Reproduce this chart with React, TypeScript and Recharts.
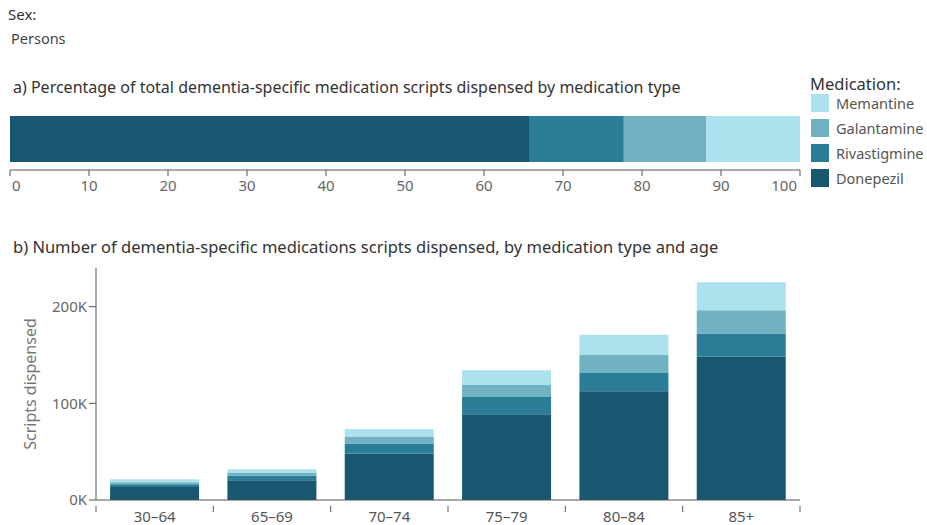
import { Bar, BarChart, XAxis, YAxis } from "recharts";

const medications = ["Donepezil", "Rivastigmine", "Galantamine", "Memantine"];
const colors = ["#17576F", "#2A7C97", "#70B1C2", "#ABE2ED"];

// a) share of all scripts, per cent
const sharePct = [65.8, 11.9, 10.4, 11.9];
const shareTicks = [0, 10, 20, 30, 40, 50, 60, 70, 80, 90, 100];

// b) scripts by age group
const ageGroups = ["30–64", "65–69", "70–74", "75–79", "80–84", "85+"];
const donepezil = [13500, 20400, 48100, 88600, 112500, 148400];
const rivastigmine = [2800, 4900, 10400, 18000, 19000, 23900];
const galantamine = [2000, 3100, 7200, 12400, 19000, 23900];
const memantine = [3200, 3400, 7700, 15300, 20400, 29100];
const scriptTicks = [0, 100000, 200000];

const font = "'Noto Sans', sans-serif";

const shareData = [
  medications.reduce((row: any, m, i) => ({ ...row, [m]: sharePct[i] }), { name: "Persons" }),
];

const ageData = ageGroups.map((age, i) => ({
  age,
  Donepezil: donepezil[i],
  Rivastigmine: rivastigmine[i],
  Galantamine: galantamine[i],
  Memantine: memantine[i],
}));

// first and last percent labels are pulled inside the axis ends
const ShareTick = (props: any) => {
  const { x, y, payload, index, visibleTicksCount } = props;
  const last = visibleTicksCount - 1;
  const anchor = index === 0 ? "start" : index === last ? "end" : "middle";
  const dx = index === 0 ? 2 : index === last ? -3 : 0;
  return (
    <text x={x + dx} y={y + 12} textAnchor={anchor} fill="#666" fontSize={15} fontFamily={font}>
      {payload.value}
    </text>
  );
};

// category label at band centre, tick marks at band edges
const AgeTick = (props: any) => {
  const { x, y, payload, index, visibleTicksCount, width } = props;
  const band = (width || 704) / (visibleTicksCount || ageGroups.length);
  const left = x - band / 2;
  const right = x + band / 2;
  return (
    <g>
      <line x1={left} x2={left} y1={y - 2} y2={y + 4} stroke="#555" />
      {index === visibleTicksCount - 1 && (
        <line x1={right} x2={right} y1={y - 2} y2={y + 4} stroke="#555" />
      )}
      <text x={x} y={y + 14} textAnchor="middle" fill="#555" fontSize={15} fontFamily={font}>
        {payload.value}
      </text>
    </g>
  );
};

const legendItems = [...medications].reverse();

export default function App() {
  return (
    <div
      style={{
        position: "absolute",
        left: 0,
        top: 0,
        width: 927,
        height: 525,
        background: "#fff",
        fontFamily: font,
        color: "#333",
        overflow: "hidden",
      }}
    >
      <div style={{ position: "absolute", left: 8, top: 4, fontSize: 15 }}>Sex:</div>
      <div style={{ position: "absolute", left: 11, top: 28, fontSize: 14.5, color: "#444" }}>Persons</div>
      <div style={{ position: "absolute", left: 13, top: 76, fontSize: 16 }}>
        a) Percentage of total dementia-specific medication scripts dispensed by medication type
      </div>
      <div style={{ position: "absolute", left: 13, top: 235, fontSize: 16.5 }}>
        b) Number of dementia-specific medications scripts dispensed, by medication type and age
      </div>

      <div style={{ position: "absolute", left: 810, top: 72, fontSize: 16.5 }}>Medication:</div>
      {legendItems.map((m, i) => (
        <div
          key={m}
          style={{
            position: "absolute",
            left: 811,
            top: 93 + i * 25,
            display: "flex",
            alignItems: "center",
            fontSize: 14.5,
            color: "#555",
          }}
        >
          <span
            style={{
              display: "inline-block",
              width: 18,
              height: 18,
              background: colors[medications.indexOf(m)],
              marginRight: 7,
            }}
          />
          {m}
        </div>
      ))}

      <div style={{ position: "absolute", left: 0, top: 100 }}>
        <BarChart
          width={830}
          height={100}
          layout="vertical"
          data={shareData}
          margin={{ top: 8, right: 30, bottom: 0, left: 10 }}
        >
          <XAxis
            type="number"
            domain={[0, 100]}
            ticks={shareTicks}
            interval={0}
            stroke="#555"
            tickSize={6}
            tickMargin={3}
            tick={<ShareTick />}
            height={30}
          />
          <YAxis type="category" dataKey="name" width={0} tick={false} tickLine={false} stroke="#555" />
          {medications.map((m, i) => (
            <Bar key={m} dataKey={m} stackId="a" fill={colors[i]} barSize={46} isAnimationActive={false} />
          ))}
        </BarChart>
      </div>

      <div style={{ position: "absolute", left: 0, top: 255 }}>
        <BarChart
          width={830}
          height={272}
          data={ageData}
          barCategoryGap="12%"
          margin={{ top: 13, right: 30, bottom: 0, left: 0 }}
        >
          <XAxis
            dataKey="age"
            interval={0}
            stroke="#555"
            tickLine={false}
            tick={<AgeTick />}
            height={27}
          />
          <YAxis
            width={96}
            domain={[0, 240000]}
            ticks={scriptTicks}
            stroke="#555"
            tickSize={7}
            tickMargin={2}
            tickFormatter={(v: number) => `${v / 1000}K`}
            tick={{ fill: "#666", fontSize: 15, fontFamily: font }}
            label={{
              value: "Scripts dispensed",
              angle: -90,
              position: "insideLeft",
              offset: 30,
              style: { textAnchor: "middle", fill: "#777", fontSize: 16, fontFamily: font },
            }}
          />
          {medications.map((m, i) => (
            <Bar key={m} dataKey={m} stackId="b" fill={colors[i]} isAnimationActive={false} />
          ))}
        </BarChart>
      </div>
    </div>
  );
}
